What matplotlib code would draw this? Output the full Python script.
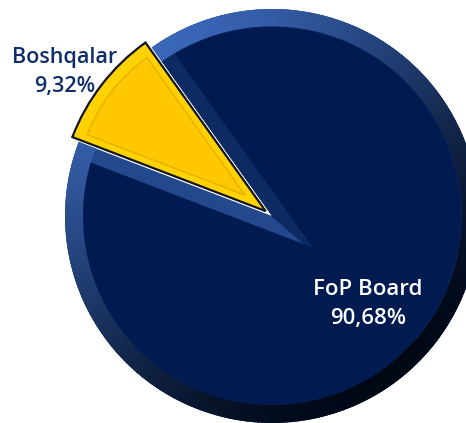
import matplotlib.pyplot as plt
from matplotlib.patches import Wedge, Circle
from matplotlib.colors import to_rgb
import numpy as np

# pie data
labels = ['Boshqalar', 'FoP Board']
shares = [9.32, 90.68]
share_text = ['9,32%', '90,68%']

navy_face = '#011B50'
band_light = '#24488E'
band_dark = '#0E2A63'
ring_light = np.array(to_rgb('#3A66B8'))
ring_dark = np.array(to_rgb('#000816'))

fig = plt.figure(figsize=(4.66, 4.23), dpi=100)
ax = fig.add_axes([0, 0, 1, 1])

# layout in pixel-like data units
cx, cy, R = 272, 207, 207
ring_w = 18

wedges, _ = ax.pie(shares, colors=['#FFD200', band_light], startangle=125.5,
                   counterclock=True, center=(cx, cy), radius=R,
                   explode=[8, 0], frame=True)
yel, dark = wedges
yel.set_edgecolor('#10141F')
yel.set_linewidth(1.6)
yel.set_zorder(6)
dark.set_zorder(1)

# bevelled outer ring with light from upper left
for a in np.arange(0, 360, 1.0):
    t = (1 + np.cos(np.deg2rad(a - 125))) / 2
    col = ring_dark + (ring_light - ring_dark) * t ** 1.3
    w = Wedge((cx, cy), R, a, a + 1.3, width=ring_w, facecolor=col,
              edgecolor=col, linewidth=0.4, zorder=2)
    ax.add_patch(w)
    w.set_clip_path(dark)

# darker bevel along the upper gap edge
mid_dark = (dark.theta1 + dark.theta2) / 2
ub = Wedge((cx, cy), R - ring_w, mid_dark - 3, dark.theta2, color=band_dark, zorder=2)
ax.add_patch(ub)
ub.set_clip_path(dark)

# inner face of the big slice, pushed away from the gap
px = cx + 54 * np.cos(np.deg2rad(mid_dark))
py = cy + 54 * np.sin(np.deg2rad(mid_dark))
face = Wedge((px, py), 600, dark.theta1, dark.theta2, color=navy_face, zorder=3)
ax.add_patch(face)
face.set_clip_path(Circle((cx, cy), R - ring_w, transform=ax.transData))

# inner face of the yellow slice
mid_y = np.deg2rad((yel.theta1 + yel.theta2) / 2)
yx, yy = yel.center
inner = Wedge((yx + 26 * np.cos(mid_y), yy + 26 * np.sin(mid_y)), 169,
              yel.theta1, yel.theta2, facecolor='#FFC800', edgecolor='#E8AE00',
              linewidth=1.0, zorder=7)
ax.add_patch(inner)

ax.text(65, 423 - 72, labels[0] + '\n' + share_text[0], ha='center', va='center',
        color='#0F2D6B', fontsize=15.5, fontfamily='Open Sans', fontweight='semibold',
        linespacing=1.45)
ax.text(368, 423 - 304, labels[1] + '\n' + share_text[1], ha='center', va='center',
        color='white', fontsize=16, fontfamily='Open Sans', fontweight='semibold',
        linespacing=1.45)

ax.set_xlim(0, 466)
ax.set_ylim(0, 423)
ax.set_aspect('equal')
ax.axis('off')
fig.savefig('out.png', dpi=100)
